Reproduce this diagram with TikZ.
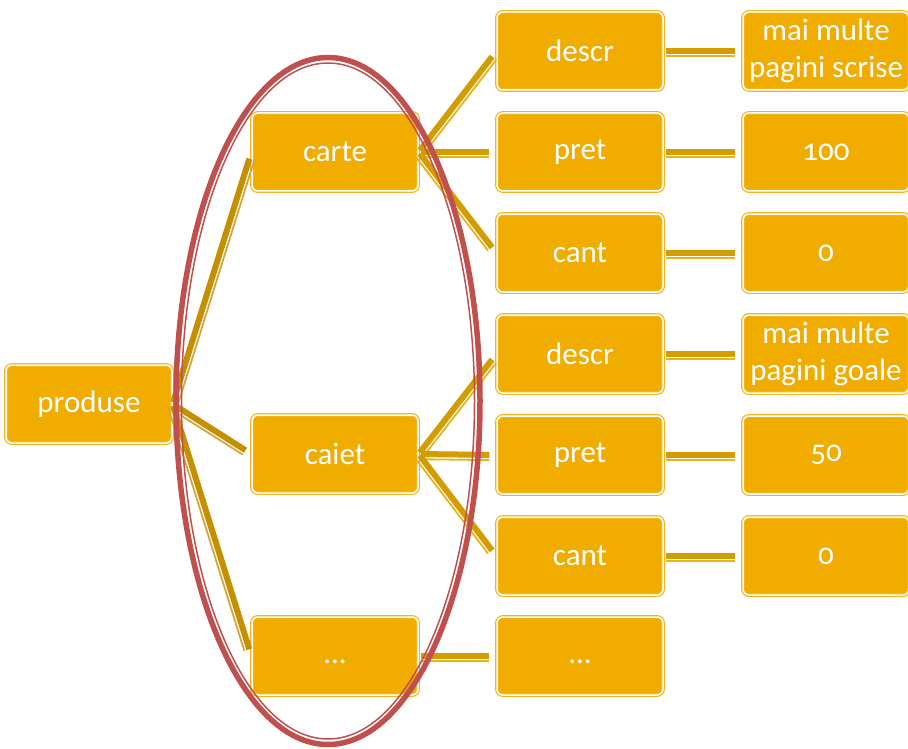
\documentclass[tikz,border=0pt]{standalone}
\usepackage{fontspec}
\setmainfont{Carlito}[Numbers=OldStyle]
\usetikzlibrary{calc}

\definecolor{boxgold}{HTML}{F0AD00}
\definecolor{rimgold}{HTML}{F2B61C}
\definecolor{linkdark}{HTML}{D39C00}
\definecolor{linklight}{HTML}{E9B31A}
\definecolor{rootdark}{HTML}{C49000}
\definecolor{rootlight}{HTML}{D6A53A}
\definecolor{ovalred}{HTML}{C0504D}

\tikzset{
  item/.style={draw=rimgold, double=white, double distance=1.5pt, line width=1.2pt,
    fill=boxgold, rounded corners=6pt, minimum width=166pt, minimum height=78pt,
    text=white, font=\fontsize{31}{37}\selectfont, align=center, inner sep=0pt},
}

% thick line with a thin one beside it
\newcommand{\twinline}[4]{%
  \draw[#1, line width=6pt, shorten <=2pt, shorten >=7pt] (#3.east) -- (#4.west);
  \draw[#2, line width=1.8pt, shorten <=2pt, shorten >=7pt]
    ($(#3.east)!5.2pt!-90:(#4.west)$) -- ($(#4.west)!5.2pt!90:(#3.east)$);
}

\begin{document}
\begin{tikzpicture}[x=1pt, y=-1pt]
  \useasboundingbox (0,0) rectangle (908,749);

  % root
  \node[item] (produse) at (89,404) {produse};

  % first level
  \node[item] (carte) at (335,152) {carte};
  \node[item] (caiet) at (335,454) {caiet};
  \node[item] (dotsA) at (335,656) {\strut...};

  % fields
  \node[item] (descrA) at (580,51) {descr};
  \node[item] (pretA) at (580,152) {pret};
  \node[item] (cantA) at (580,253) {cant};
  \node[item] (descrB) at (580,354) {descr};
  \node[item] (pretB) at (580,455) {pret};
  \node[item] (cantB) at (580,556) {cant};
  \node[item] (dotsB) at (580,656) {\strut...};

  % values
  \node[item] (valDescrA) at (826,51) {mai multe\\pagini scrise};
  \node[item] (valPretA) at (826,152) {100};
  \node[item] (valCantA) at (826,253) {0};
  \node[item] (valDescrB) at (826,354) {mai multe\\pagini goale};
  \node[item] (valPretB) at (826,455) {50};
  \node[item] (valCantB) at (826,556) {0};

  % links from the root
  \twinline{rootdark}{rootlight}{produse}{carte}
  \twinline{rootdark}{rootlight}{produse}{caiet}
  \twinline{rootdark}{rootlight}{produse}{dotsA}

  % links to the fields
  \twinline{linkdark}{linklight}{carte}{descrA}
  \twinline{linkdark}{linklight}{carte}{pretA}
  \twinline{linkdark}{linklight}{carte}{cantA}
  \twinline{linkdark}{linklight}{caiet}{descrB}
  \twinline{linkdark}{linklight}{caiet}{pretB}
  \twinline{linkdark}{linklight}{caiet}{cantB}
  \twinline{linkdark}{linklight}{dotsA}{dotsB}

  % links to the values
  \twinline{linkdark}{linklight}{descrA}{valDescrA}
  \twinline{linkdark}{linklight}{pretA}{valPretA}
  \twinline{linkdark}{linklight}{cantA}{valCantA}
  \twinline{linkdark}{linklight}{descrB}{valDescrB}
  \twinline{linkdark}{linklight}{pretB}{valPretB}
  \twinline{linkdark}{linklight}{cantB}{valCantB}

  % red oval round the first level
  \draw[ovalred, line width=5.5pt] (328,401) ellipse [x radius=152pt, y radius=343.5pt];
  \draw[ovalred, line width=1.5pt] (328,401) ellipse [x radius=146.5pt, y radius=338pt];
\end{tikzpicture}
\end{document}
